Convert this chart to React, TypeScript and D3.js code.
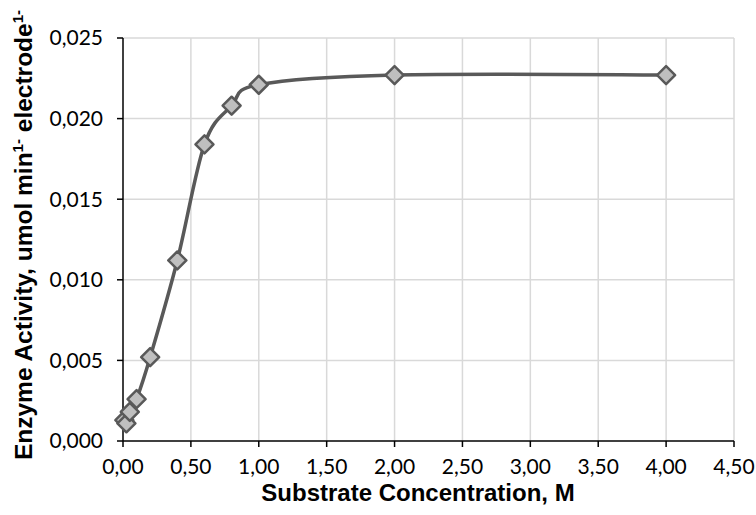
import React from "react";
import * as d3 from "d3";

const concentrations = [0.01, 0.025, 0.05, 0.1, 0.2, 0.4, 0.6, 0.8, 1.0, 2.0, 4.0];
const activities = [0.0013, 0.0011, 0.0018, 0.0026, 0.0052, 0.0112, 0.0184, 0.0208, 0.0221, 0.0227, 0.0227];
const xTicks = [0, 0.5, 1, 1.5, 2, 2.5, 3, 3.5, 4, 4.5];
const yTicks = [0, 0.005, 0.01, 0.015, 0.02, 0.025];

const W = 756;
const H = 515;
const m = { left: 123, right: 22, top: 38, bottom: 74 };

export default function App() {
  const x = d3.scaleLinear().domain([0, 4.5]).range([m.left, W - m.right]);
  const y = d3.scaleLinear().domain([0, 0.025]).range([H - m.bottom, m.top]);
  const pts: [number, number][] = concentrations.map((c, i) => [x(c), y(activities[i])]);
  const line = d3.line().curve(d3.curveCardinal.tension(0))(pts) || "";
  const fmtX = (v: number) => v.toFixed(2).replace(".", ",");
  const fmtY = (v: number) => v.toFixed(3).replace(".", ",");
  const r = 9;
  const x0 = x(0);
  const yb = y(0);
  const tickFont = "Lato, 'Open Sans', sans-serif";
  const titleFont = "'Liberation Sans', Arial, sans-serif";
  return (
    <svg width={W} height={H} style={{ position: "absolute", left: 0, top: 0, background: "#fff" }}>
      {xTicks.slice(1).map((t) => (
        <line key={"gx" + t} x1={x(t)} x2={x(t)} y1={y(0)} y2={y(0.025)} stroke="#d9d9d9" strokeWidth={1.5} />
      ))}
      {yTicks.slice(1).map((t) => (
        <line key={"gy" + t} x1={x0} x2={x(4.5)} y1={y(t)} y2={y(t)} stroke="#d9d9d9" strokeWidth={1.5} />
      ))}
      <line x1={x0} x2={x0} y1={y(0.025)} y2={yb} stroke="#000" strokeWidth={1.5} />
      <line x1={x0} x2={x(4.5)} y1={yb} y2={yb} stroke="#000" strokeWidth={1.5} />
      {yTicks.map((t) => (
        <line key={"ty" + t} x1={x0 - 6} x2={x0} y1={y(t)} y2={y(t)} stroke="#000" strokeWidth={1.5} />
      ))}
      {xTicks.map((t) => (
        <line key={"tx" + t} x1={x(t)} x2={x(t)} y1={yb} y2={yb + 6} stroke="#000" strokeWidth={1.5} />
      ))}
      {yTicks.map((t) => (
        <text key={"ly" + t} x={x0 - 20} y={y(t)} dy="0.35em" textAnchor="end" fontFamily={tickFont} fontSize={21} fill="#000">
          {fmtY(t)}
        </text>
      ))}
      {xTicks.map((t) => (
        <text key={"lx" + t} x={x(t)} y={yb + 26} dy="0.35em" textAnchor="middle" fontFamily={tickFont} fontSize={21} fill="#000">
          {fmtX(t)}
        </text>
      ))}
      <path d={line} fill="none" stroke="#595959" strokeWidth={3.5} />
      {pts.map(([px, py], i) => (
        <path
          key={"p" + i}
          d={`M${px},${py - r}L${px + r},${py}L${px},${py + r}L${px - r},${py}Z`}
          fill="#bfbfbf"
          stroke="#595959"
          strokeWidth={2.5}
          strokeLinejoin="round"
        />
      ))}
      <text x={418} y={501} textAnchor="middle" fontFamily={titleFont} fontWeight="bold" fontSize={24} fill="#000">
        Substrate Concentration, M
      </text>
      <text transform="translate(32,235) rotate(-90)" textAnchor="middle" fontFamily={titleFont} fontWeight="bold" fontSize={24.5} fill="#000">
        Enzyme Activity, umol min
        <tspan fontSize={15} dy={-9}>1-</tspan>
        <tspan dy={9}> electrode</tspan>
        <tspan fontSize={15} dy={-9}>1-</tspan>
      </text>
    </svg>
  );
}
